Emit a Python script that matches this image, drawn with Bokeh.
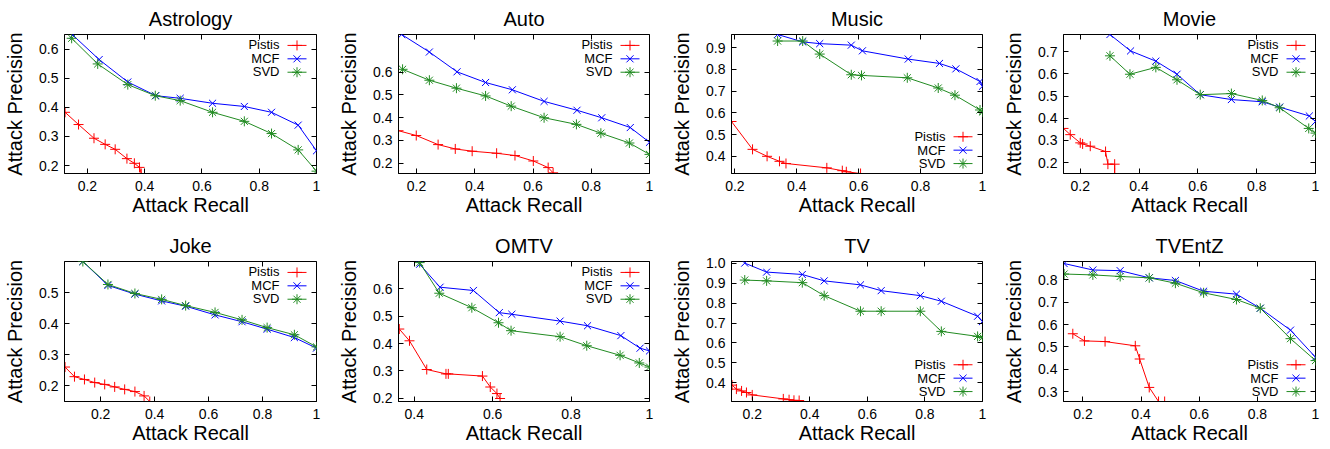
from bokeh.plotting import figure
from bokeh.layouts import row, column
from bokeh.models import (Range1d, FixedTicker, NumeralTickFormatter, LinearAxis,
                          Label, CustomJSTickFormatter)
from bokeh.embed import file_html
from bokeh.resources import INLINE

# ---------------- data ----------------
titles = ["Astrology", "Auto", "Music", "Movie", "Joke", "OMTV", "TV", "TVEntZ"]
series_names = ["Pistis", "MCF", "SVD"]

astrology_pistis_x = [0.122, 0.169, 0.223, 0.262, 0.297, 0.338, 0.364, 0.382, 0.388]
astrology_pistis_y = [0.383, 0.341, 0.294, 0.273, 0.256, 0.224, 0.208, 0.194, 0.173]
astrology_mcf_x = [0.149, 0.241, 0.341, 0.439, 0.524, 0.637, 0.748, 0.843, 0.936, 1.0]
astrology_mcf_y = [0.648, 0.564, 0.487, 0.440, 0.431, 0.414, 0.403, 0.383, 0.339, 0.251]
astrology_svd_x = [0.145, 0.236, 0.341, 0.437, 0.524, 0.637, 0.748, 0.843, 0.936, 1.0]
astrology_svd_y = [0.637, 0.549, 0.478, 0.440, 0.423, 0.383, 0.352, 0.310, 0.254, 0.181]

auto_pistis_x = [0.138, 0.199, 0.274, 0.333, 0.391, 0.475, 0.538, 0.601, 0.652, 0.669]
auto_pistis_y = [0.342, 0.321, 0.281, 0.262, 0.252, 0.243, 0.233, 0.209, 0.180, 0.157]
auto_mcf_x = [0.149, 0.244, 0.339, 0.437, 0.529, 0.638, 0.751, 0.836, 0.934, 1.0]
auto_mcf_y = [0.765, 0.688, 0.601, 0.554, 0.522, 0.471, 0.432, 0.399, 0.356, 0.291]
auto_svd_x = [0.152, 0.244, 0.337, 0.437, 0.525, 0.638, 0.749, 0.833, 0.931, 1.0]
auto_svd_y = [0.612, 0.564, 0.529, 0.495, 0.450, 0.399, 0.370, 0.331, 0.288, 0.238]

music_pistis_x = [0.189, 0.257, 0.304, 0.344, 0.365, 0.497, 0.547, 0.560, 0.606]
music_pistis_y = [0.560, 0.432, 0.400, 0.377, 0.367, 0.347, 0.334, 0.329, 0.321]
music_mcf_x = [0.338, 0.419, 0.474, 0.576, 0.612, 0.760, 0.861, 0.914, 0.992, 1.0]
music_mcf_y = [0.960, 0.926, 0.918, 0.911, 0.885, 0.847, 0.827, 0.802, 0.744, 0.722]
music_svd_x = [0.338, 0.419, 0.474, 0.576, 0.609, 0.757, 0.857, 0.911, 0.992, 1.0]
music_svd_y = [0.930, 0.930, 0.870, 0.775, 0.772, 0.761, 0.714, 0.681, 0.613, 0.604]

movie_pistis_x = [0.143, 0.166, 0.200, 0.208, 0.234, 0.286, 0.294, 0.317, 0.317]
movie_pistis_y = [0.354, 0.326, 0.289, 0.284, 0.274, 0.250, 0.193, 0.193, 0.151]
movie_mcf_x = [0.301, 0.371, 0.457, 0.529, 0.608, 0.714, 0.819, 0.878, 0.979, 1.0]
movie_mcf_y = [0.777, 0.703, 0.657, 0.598, 0.506, 0.484, 0.474, 0.450, 0.410, 0.385]
movie_svd_x = [0.301, 0.369, 0.457, 0.529, 0.608, 0.714, 0.819, 0.878, 0.977, 1.0]
movie_svd_y = [0.681, 0.598, 0.629, 0.573, 0.506, 0.511, 0.480, 0.447, 0.354, 0.333]

joke_pistis_x = [0.068, 0.103, 0.140, 0.178, 0.215, 0.252, 0.289, 0.327, 0.361, 0.382]
joke_pistis_y = [0.261, 0.230, 0.221, 0.211, 0.205, 0.197, 0.189, 0.182, 0.168, 0.150]
joke_mcf_x = [0.134, 0.227, 0.327, 0.426, 0.515, 0.624, 0.724, 0.817, 0.918, 1.0]
joke_mcf_y = [0.601, 0.524, 0.496, 0.474, 0.457, 0.429, 0.407, 0.383, 0.356, 0.322]
joke_svd_x = [0.134, 0.227, 0.327, 0.426, 0.515, 0.624, 0.724, 0.817, 0.918, 1.0]
joke_svd_y = [0.601, 0.527, 0.498, 0.479, 0.459, 0.437, 0.413, 0.388, 0.365, 0.326]

omtv_pistis_x = [0.362, 0.388, 0.432, 0.481, 0.487, 0.574, 0.594, 0.611, 0.619]
omtv_pistis_y = [0.453, 0.410, 0.305, 0.289, 0.289, 0.281, 0.241, 0.217, 0.199]
omtv_mcf_x = [0.414, 0.466, 0.551, 0.617, 0.649, 0.772, 0.842, 0.927, 0.976, 1.0]
omtv_mcf_y = [0.690, 0.606, 0.594, 0.513, 0.507, 0.482, 0.465, 0.429, 0.383, 0.373]
omtv_svd_x = [0.414, 0.464, 0.547, 0.615, 0.647, 0.772, 0.840, 0.925, 0.974, 1.0]
omtv_svd_y = [0.696, 0.584, 0.531, 0.476, 0.447, 0.425, 0.392, 0.357, 0.329, 0.314]

tv_pistis_x = [0.130, 0.145, 0.163, 0.180, 0.200, 0.308, 0.328, 0.345, 0.363]
tv_pistis_y = [0.389, 0.369, 0.360, 0.352, 0.340, 0.320, 0.316, 0.313, 0.312]
tv_mcf_x = [0.174, 0.250, 0.374, 0.450, 0.576, 0.648, 0.784, 0.857, 0.983, 1.0]
tv_mcf_y = [1.000, 0.955, 0.943, 0.911, 0.891, 0.862, 0.837, 0.809, 0.734, 0.707]
tv_svd_x = [0.174, 0.250, 0.374, 0.450, 0.576, 0.648, 0.784, 0.857, 0.983, 1.0]
tv_svd_y = [0.915, 0.911, 0.902, 0.837, 0.759, 0.759, 0.759, 0.658, 0.633, 0.628]

tventz_pistis_x = [0.165, 0.205, 0.276, 0.380, 0.395, 0.428, 0.460, 0.481]
tventz_pistis_y = [0.559, 0.527, 0.524, 0.505, 0.446, 0.319, 0.256, 0.256]
tventz_mcf_x = [0.135, 0.234, 0.328, 0.428, 0.518, 0.615, 0.728, 0.810, 0.914, 1.0]
tventz_mcf_y = [0.873, 0.844, 0.841, 0.809, 0.797, 0.749, 0.736, 0.673, 0.575, 0.454]
tventz_svd_x = [0.135, 0.234, 0.328, 0.428, 0.518, 0.615, 0.728, 0.810, 0.914, 1.0]
tventz_svd_y = [0.826, 0.822, 0.815, 0.809, 0.785, 0.742, 0.712, 0.673, 0.537, 0.439]

# tick values per panel
x_ticks_default = [0.2, 0.4, 0.6, 0.8, 1.0]
x_ticks_omtv = [0.4, 0.6, 0.8, 1.0]
y_ticks_astrology = [0.2, 0.3, 0.4, 0.5, 0.6]
y_ticks_auto = [0.2, 0.3, 0.4, 0.5, 0.6]
y_ticks_music = [0.4, 0.5, 0.6, 0.7, 0.8, 0.9]
y_ticks_movie = [0.2, 0.3, 0.4, 0.5, 0.6, 0.7]
y_ticks_joke = [0.2, 0.3, 0.4, 0.5]
y_ticks_omtv = [0.2, 0.3, 0.4, 0.5, 0.6]
y_ticks_tv = [0.4, 0.5, 0.6, 0.7, 0.8, 0.9, 1.0]
y_ticks_tventz = [0.3, 0.4, 0.5, 0.6, 0.7, 0.8]

# ---------------- layout / style config ----------------
panels = [
    dict(title=titles[0], data=[(astrology_pistis_x, astrology_pistis_y), (astrology_mcf_x, astrology_mcf_y), (astrology_svd_x, astrology_svd_y)],
         xr=(0.12, 1.0), yr=(0.173, 0.65), xt=x_ticks_default, yt=y_ticks_astrology, leg="top"),
    dict(title=titles[1], data=[(auto_pistis_x, auto_pistis_y), (auto_mcf_x, auto_mcf_y), (auto_svd_x, auto_svd_y)],
         xr=(0.138, 1.0), yr=(0.154, 0.765), xt=x_ticks_default, yt=y_ticks_auto, leg="top"),
    dict(title=titles[2], data=[(music_pistis_x, music_pistis_y), (music_mcf_x, music_mcf_y), (music_svd_x, music_svd_y)],
         xr=(0.189, 1.0), yr=(0.321, 0.96), xt=x_ticks_default, yt=y_ticks_music, leg="bottom"),
    dict(title=titles[3], data=[(movie_pistis_x, movie_pistis_y), (movie_mcf_x, movie_mcf_y), (movie_svd_x, movie_svd_y)],
         xr=(0.143, 1.0), yr=(0.151, 0.777), xt=x_ticks_default, yt=y_ticks_movie, leg="top"),
    dict(title=titles[4], data=[(joke_pistis_x, joke_pistis_y), (joke_mcf_x, joke_mcf_y), (joke_svd_x, joke_svd_y)],
         xr=(0.066, 1.0), yr=(0.150, 0.601), xt=x_ticks_default, yt=y_ticks_joke, leg="top"),
    dict(title=titles[5], data=[(omtv_pistis_x, omtv_pistis_y), (omtv_mcf_x, omtv_mcf_y), (omtv_svd_x, omtv_svd_y)],
         xr=(0.36, 1.0), yr=(0.188, 0.70), xt=x_ticks_omtv, yt=y_ticks_omtv, leg="top"),
    dict(title=titles[6], data=[(tv_pistis_x, tv_pistis_y), (tv_mcf_x, tv_mcf_y), (tv_svd_x, tv_svd_y)],
         xr=(0.128, 1.0), yr=(0.307, 1.008), xt=x_ticks_default, yt=y_ticks_tv, leg="bottom"),
    dict(title=titles[7], data=[(tventz_pistis_x, tventz_pistis_y), (tventz_mcf_x, tventz_mcf_y), (tventz_svd_x, tventz_svd_y)],
         xr=(0.133, 1.0), yr=(0.256, 0.882), xt=x_ticks_default, yt=y_ticks_tventz, leg="bottom"),
]

FONT = "Liberation Sans"
COLORS = ["#ff0000", "#0000ff", "#228b22"]
MARKERS = ["cross", "x", "asterisk"]

# (width, min_border_left, min_border_right)
COL_GEOM = [(334, 64, 18), (333, 64, 18), (332, 64, 17), (329, 64, 13)]
# (height, min_border_top, min_border_bottom)
ROW_GEOM = [(227, 33, 54), (221, 33, 47)]


def style_axis(ax, label, ticks, fmt, label_standoff, tick_standoff):
    ax.ticker = FixedTicker(ticks=ticks)
    ax.formatter = NumeralTickFormatter(format=fmt)
    ax.axis_label = label
    ax.axis_label_text_font = FONT
    ax.axis_label_text_font_size = "20px"
    ax.axis_label_text_font_style = "normal"
    ax.axis_label_text_color = "black"
    ax.axis_label_standoff = label_standoff
    ax.major_label_text_font = FONT
    ax.major_label_text_font_size = "14px"
    ax.major_label_text_color = "black"
    ax.major_label_standoff = tick_standoff
    ax.major_tick_in = 5
    ax.major_tick_out = 0
    ax.major_tick_line_color = "black"
    ax.minor_tick_line_color = None
    ax.axis_line_color = "black"


def mirror_axis(ticks):
    return LinearAxis(ticker=FixedTicker(ticks=ticks),
                      formatter=CustomJSTickFormatter(code="return ''"),
                      major_label_text_font_size="0px", major_label_standoff=0,
                      major_tick_in=5, major_tick_out=0, major_tick_line_color="black",
                      minor_tick_line_color=None, axis_line_color=None)


def make_panel(pan, ci, ri):
    w, bl, br = COL_GEOM[ci]
    h, bt, bb = ROW_GEOM[ri]
    fw, fh = w - bl - br, h - bt - bb
    p = figure(width=w, height=h, min_border_left=bl, min_border_right=br,
               min_border_top=bt, min_border_bottom=bb,
               x_range=Range1d(*pan["xr"]), y_range=Range1d(*pan["yr"]),
               output_backend="svg", toolbar_location=None, title=pan["title"])
    p.title.align = "center"
    p.title.text_font = FONT
    p.title.text_font_size = "20px"
    p.title.text_font_style = "normal"
    p.title.text_color = "black"
    p.title.standoff = 10
    p.xgrid.visible = False
    p.ygrid.visible = False
    p.outline_line_color = "black"
    p.outline_line_alpha = 1.0
    p.outline_line_width = 1
    p.background_fill_color = "white"
    p.border_fill_color = "white"

    style_axis(p.xaxis[0], "Attack Recall", pan["xt"], "0.[0]", 0, 7)
    style_axis(p.yaxis[0], "Attack Precision", pan["yt"], "0.0", 10, 6)
    p.add_layout(mirror_axis(pan["yt"]), "right")
    p.add_layout(mirror_axis(pan["xt"]), "above")

    # frame-pixel ranges, used only to place the legend keys
    p.extra_x_ranges = {"key": Range1d(0, fw)}
    p.extra_y_ranges = {"key": Range1d(0, fh)}

    if pan["leg"] == "top":
        key_y = [fh - 11, fh - 24.5, fh - 38]
    else:
        key_y = [37, 23.5, 10]

    for (xs, ys), col, mk, name, ky in zip(pan["data"], COLORS, MARKERS, series_names, key_y):
        p.line(xs, ys, line_color=col, line_width=1)
        p.scatter(xs, ys, marker=mk, size=10, line_color=col, line_width=1, fill_color=None)
        # legend key: text then sample line + marker (gnuplot style)
        p.line([fw - 29, fw - 10], [ky, ky], line_color=col, line_width=1,
               x_range_name="key", y_range_name="key")
        p.scatter([fw - 19.5], [ky], marker=mk, size=10, line_color=col, line_width=1,
                  fill_color=None, x_range_name="key", y_range_name="key")
        p.add_layout(Label(x=fw - 37, y=ky, x_units="screen", y_units="screen",
                           text=name, text_align="right", text_baseline="middle",
                           text_font=FONT, text_font_size="13px", text_color="black"))
    return p


figs = [make_panel(pan, i % 4, i // 4) for i, pan in enumerate(panels)]
layout = column(row(*figs[:4], spacing=0), row(*figs[4:], spacing=0), spacing=0)

open("out.html", "w").write(file_html(layout, INLINE, title="Attack precision vs recall"))
